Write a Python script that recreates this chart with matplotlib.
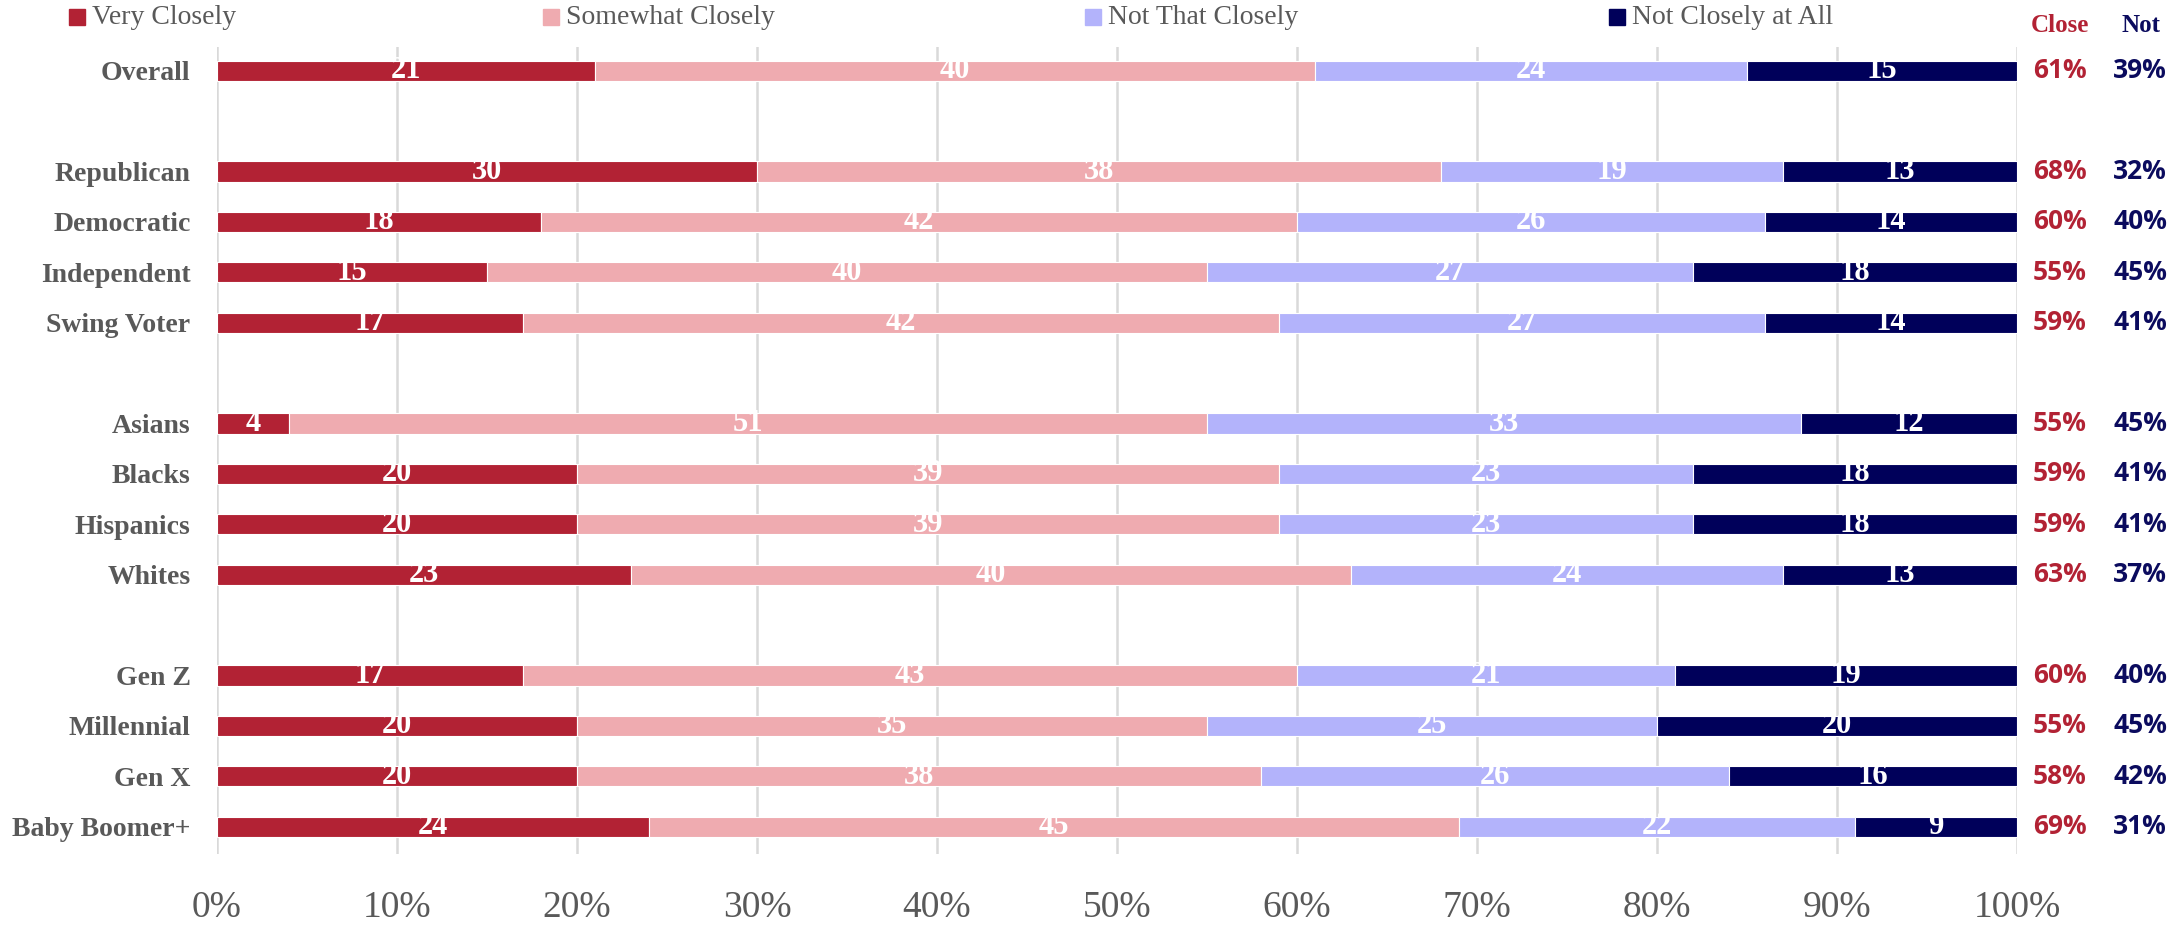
"""Stacked bar chart: how closely people follow the news, by group."""

import numpy as np
import matplotlib.pyplot as plt
from matplotlib.patches import Rectangle
from matplotlib.transforms import blended_transform_factory

groups = ["Overall", "Republican", "Democratic", "Independent", "Swing Voter",
          "Asians", "Blacks", "Hispanics", "Whites",
          "Gen Z", "Millennial", "Gen X", "Baby Boomer+"]
# row slot for each group (empty slots separate the blocks)
slots = [0, 2, 3, 4, 5, 7, 8, 9, 10, 12, 13, 14, 15]

series_names = ["Very Closely", "Somewhat Closely", "Not That Closely", "Not Closely at All"]
very = [21, 30, 18, 15, 17, 4, 20, 20, 23, 17, 20, 20, 24]
somewhat = [40, 38, 42, 40, 42, 51, 39, 39, 40, 43, 35, 38, 45]
not_that = [24, 19, 26, 27, 27, 33, 23, 23, 24, 21, 25, 26, 22]
not_all = [15, 13, 14, 18, 14, 12, 18, 18, 13, 19, 20, 16, 9]

close_pct = [61, 68, 60, 55, 59, 55, 59, 59, 63, 60, 55, 58, 69]
not_pct = [39, 32, 40, 45, 41, 45, 41, 41, 37, 40, 45, 42, 31]

colors = ["#B22234", "#EFABB0", "#B3B3FB", "#00005A"]
red_txt = "#B22234"
navy_txt = "#0B0B5E"
gray = "#595959"
serif = "Liberation Serif"
sans = "Open Sans"

fig = plt.figure(figsize=(21.7, 9.25), dpi=100)
ax = fig.add_axes([217 / 2170, 1 - 854 / 925, 1800 / 2170, (854 - 47) / 925])

left = np.zeros(len(groups))
for name, vals, col in zip(series_names, [very, somewhat, not_that, not_all], colors):
    vals = np.array(vals, dtype=float)
    ax.barh(slots, vals, left=left, height=0.4, color=col, edgecolor="white",
            linewidth=0.8, zorder=2)
    for y, l, v in zip(slots, left, vals):
        ax.text(l + v / 2, y, f"{int(v)}", ha="center", va="center", color="white",
                fontsize=22, family=serif, fontweight="bold", zorder=3)
    left += vals

ax.set_xlim(0, 100)
ax.set_ylim(15.54, -0.47)
ax.set_xticks(np.arange(0, 101, 10))
ax.set_xticklabels([f"{t}%" for t in range(0, 101, 10)], fontsize=27,
                   family=serif, color=gray)
ax.set_yticks(slots)
ax.set_yticklabels(groups, fontsize=20, family=serif, fontweight="bold", color=gray)
ax.tick_params(axis="x", length=0, pad=26)
ax.tick_params(axis="y", length=0, pad=19)
ax.grid(axis="x", color="#D9D9D9", linewidth=1.8, zorder=0)
ax.set_axisbelow(True)
for s in ax.spines.values():
    s.set_visible(False)

# right-hand summary columns
tr = blended_transform_factory(fig.transFigure, ax.transData)
for y, c, n in zip(slots, close_pct, not_pct):
    ax.text(2060 / 2170, y, f"{c}%", transform=tr, ha="center", va="center",
            fontsize=19, family=sans, fontweight="bold", color=red_txt)
    ax.text(2140 / 2170, y, f"{n}%", transform=tr, ha="center", va="center",
            fontsize=19, family=sans, fontweight="bold", color=navy_txt)
fig.text(2060 / 2170, 1 - 26 / 925, "Close", ha="center", va="center",
         fontsize=18, family=serif, fontweight="bold", color=red_txt)
fig.text(2141 / 2170, 1 - 26 / 925, "Not", ha="center", va="center",
         fontsize=18, family=serif, fontweight="bold", color=navy_txt)

# legend across the top
marker_x = [69, 543, 1085, 1609]
for mx, name, col in zip(marker_x, series_names, colors):
    fig.patches.append(Rectangle((mx / 2170, 1 - 25 / 925), 16 / 2170, 16 / 925,
                                 transform=fig.transFigure, color=col))
    fig.text((mx + 23) / 2170, 1 - 17 / 925, name, ha="left", va="center",
             fontsize=20, family=serif, color=gray)

fig.savefig("out.png", dpi=100)
